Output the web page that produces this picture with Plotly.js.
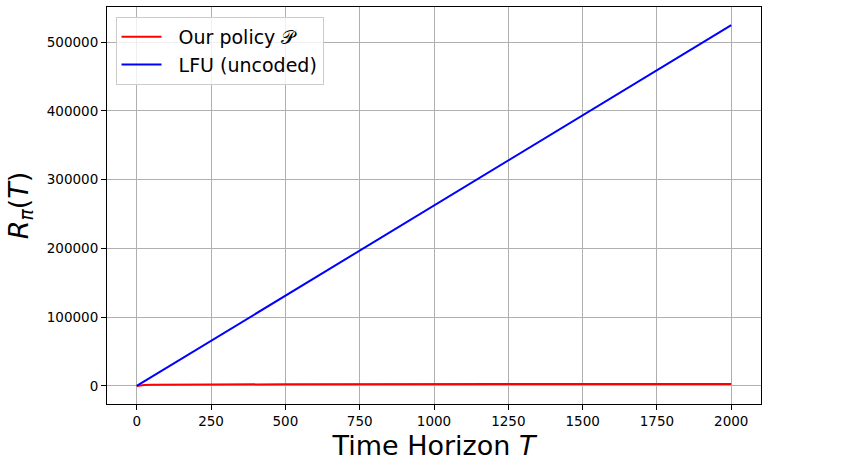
<!DOCTYPE html>
<html>
<head>
<meta charset="utf-8">
<script src="https://cdn.plot.ly/plotly-3.0.1.min.js"></script>
<style>
  html, body { margin: 0; padding: 0; background: #ffffff; }
  #chart { width: 846px; height: 461px; }
</style>
</head>
<body>
<div id="chart"></div>
<script>
// Time horizon values and regret
const horizonT = [0, 10, 25, 50, 100, 250, 500, 750, 1000, 1250, 1500, 1750, 2000];
const regretOurs = [0, 900, 1300, 1600, 1850, 2150, 2400, 2550, 2700, 2800, 2900, 2950, 3000];
const lfuT = [0, 2000];
const regretLfu = [0, 525000];

const xTicks = [0, 250, 500, 750, 1000, 1250, 1500, 1750, 2000];
const yTicks = [0, 100000, 200000, 300000, 400000, 500000];

const tickFont = { family: 'DejaVu Sans, sans-serif', size: 13.5, color: '#000000' };

const data = [{ // Our policy
    x: horizonT,
    y: regretOurs,
    mode: 'lines',
    name: '\u00a0\u00a0Our policy \u{1D4AB}',
    line: { color: '#ff0000', width: 2 },
}, { // LFU
    x: lfuT,
    y: regretLfu,
    mode: 'lines',
    name: '\u00a0\u00a0LFU (uncoded)',
    line: { color: '#0000ff', width: 2 },
}];

const layout = {
    width: 846,
    height: 461,
    margin: { l: 107, r: 85, t: 7, b: 57, pad: 0 },
    paper_bgcolor: '#ffffff',
    plot_bgcolor: '#ffffff',
    showlegend: true,
    legend: {
        x: 0.013, y: 0.975,
        xanchor: 'left', yanchor: 'top',
        bgcolor: 'rgba(255,255,255,0.8)',
        bordercolor: '#cccccc',
        borderwidth: 1,
        font: { family: 'DejaVu Sans, sans-serif', size: 19, color: '#000000' },
        itemwidth: 40,
        tracegroupgap: 2,
    },
    xaxis: {
        range: [-100, 2100],
        tickvals: xTicks,
        ticktext: xTicks.map(String),
        ticks: 'outside',
        ticklen: 5,
        tickcolor: '#000000',
        tickfont: tickFont,
        showline: true,
        mirror: true,
        linecolor: '#000000',
        linewidth: 1,
        showgrid: true,
        gridcolor: '#b0b0b0',
        gridwidth: 1,
        zeroline: false,
        title: {
            text: 'Time Horizon <i>T</i>',
            font: { family: 'DejaVu Sans, sans-serif', size: 27, color: '#000000' },
            standoff: 8,
        },
    },
    yaxis: {
        range: [-26250, 551250],
        tickvals: yTicks,
        ticktext: yTicks.map(String),
        ticks: 'outside',
        ticklen: 5,
        tickcolor: '#000000',
        tickfont: tickFont,
        showline: true,
        mirror: true,
        linecolor: '#000000',
        linewidth: 1,
        showgrid: true,
        gridcolor: '#b0b0b0',
        gridwidth: 1,
        zeroline: false,
        title: {
            text: '<i>R</i><sub><i>π</i></sub>(<i>T</i>)',
            font: { family: 'DejaVu Sans, sans-serif', size: 27, color: '#000000' },
            standoff: 10,
        },
    },
};

const config = { staticPlot: true, displayModeBar: false };

Plotly.newPlot('chart', data, layout, config);
</script>
</body>
</html>
